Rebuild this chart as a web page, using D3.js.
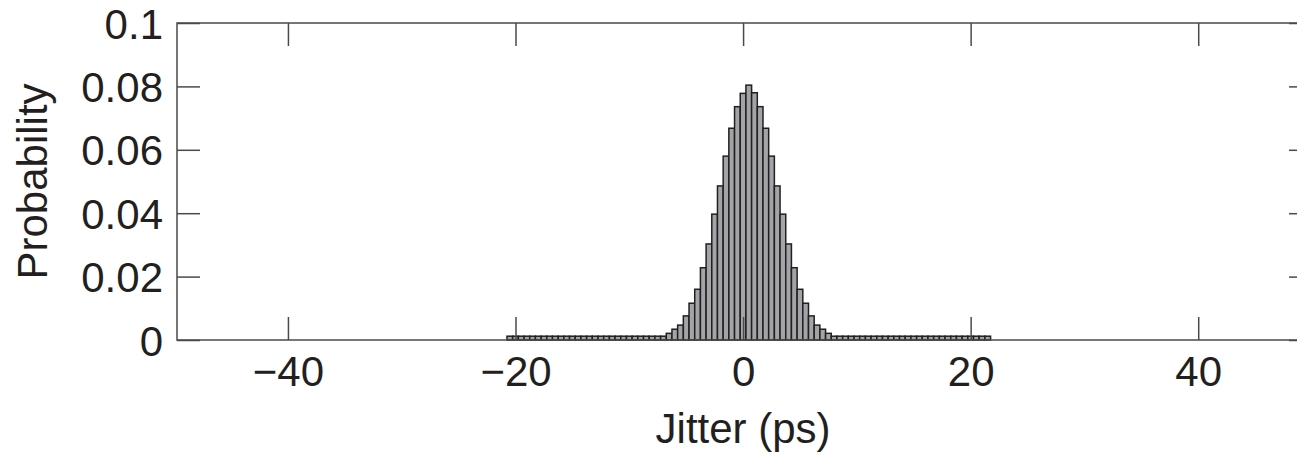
<!DOCTYPE html>
<html>
<head>
<meta charset="utf-8">
<script src="https://cdn.jsdelivr.net/npm/d3@7"></script>
<style>
  body { margin: 0; background: #fff; }
  text { font-family: "Liberation Sans", Arial, sans-serif; fill: #231f20; }
</style>
</head>
<body>
<svg id="chart" width="1297" height="454"></svg>
<script>
// histogram bins, 0.5 ps wide, first bin starts at -20.75 ps
const binStart = -20.75;
const binWidth = 0.5;
const tailLeft = [
  0.0012, 0.0012, 0.0012, 0.0012, 0.0012, 0.0012, 0.0012, 0.0012, 0.0012, 0.0012,
  0.0012, 0.0012, 0.0012, 0.0012, 0.0012, 0.0012, 0.0012, 0.0012, 0.0012, 0.0012,
  0.0012, 0.0012, 0.0012, 0.0012, 0.0012, 0.0012, 0.0012, 0.0012
];
const core = [
  0.0021, 0.0034, 0.0047, 0.0076, 0.0116, 0.016, 0.0228, 0.0303, 0.0397, 0.0486,
  0.058, 0.0668, 0.0736, 0.0778, 0.0804, 0.078, 0.0736, 0.0668, 0.058, 0.0486,
  0.0397, 0.0303, 0.0228, 0.016, 0.0116, 0.0076, 0.0047, 0.0034, 0.0021
];
const tailRight = [
  0.0012, 0.0012, 0.0012, 0.0012, 0.0012, 0.0012, 0.0012, 0.0012, 0.0012, 0.0012,
  0.0012, 0.0012, 0.0012, 0.0012, 0.0012, 0.0012, 0.0012, 0.0012, 0.0012, 0.0012,
  0.0012, 0.0012, 0.0012, 0.0012, 0.0012, 0.0012, 0.0012, 0.0012
];
const xTicks = [-40, -20, 0, 20, 40];
const yTicks = [0, 0.02, 0.04, 0.06, 0.08, 0.1];
const xLabel = "Jitter (ps)";
const yLabel = "Probability";

const probs = tailLeft.concat(core, tailRight);
const bins = probs.map((p, i) => ({ x0: binStart + i * binWidth, x1: binStart + (i + 1) * binWidth, p: p }));

const svg = d3.select("#chart");
const mLeft = 177, mRight = 1312, mTop = 23, mBottom = 340;
const x = d3.scaleLinear().domain([-49.75, 50]).range([mLeft, mRight]);
const y = d3.scaleLinear().domain([0, 0.1]).range([mBottom, mTop]);

// bars
svg.append("g")
  .selectAll("rect")
  .data(bins)
  .join("rect")
  .attr("x", d => x(d.x0))
  .attr("width", d => x(d.x1) - x(d.x0))
  .attr("y", d => y(d.p))
  .attr("height", d => y(0) - y(d.p))
  .attr("fill", "#a2a4a8")
  .attr("stroke", "#231f20")
  .attr("stroke-width", 1.5);

const tickLen = 23;
const axisColor = "#4a4a4a";
const fmtY = d => d === 0 ? "0" : d3.format("")(d);
const fmtX = d => d < 0 ? "\u2212" + Math.abs(d) : String(d);

function styleAxis(g) {
  g.select(".domain").remove();
  g.selectAll(".tick line").attr("stroke", axisColor).attr("stroke-width", 1.5);
  g.selectAll(".tick text").attr("font-size", 42).attr("fill", "#231f20")
    .attr("font-family", "'Liberation Sans', Arial, sans-serif");
}

svg.append("g")
  .attr("transform", `translate(0,${mBottom})`)
  .call(d3.axisBottom(x).tickValues(xTicks).tickFormat(fmtX).tickSizeInner(-tickLen).tickPadding(20))
  .call(styleAxis)
  .selectAll(".tick text").attr("y", 46).attr("dy", 0);

svg.append("g")
  .attr("transform", `translate(0,${mTop})`)
  .call(d3.axisTop(x).tickValues(xTicks).tickFormat("").tickSizeInner(-tickLen))
  .call(styleAxis);

svg.append("g")
  .attr("transform", `translate(${mLeft},0)`)
  .call(d3.axisLeft(y).tickValues(yTicks).tickFormat(fmtY).tickSizeInner(-tickLen).tickPadding(14))
  .call(styleAxis)
  .selectAll(".tick text").attr("x", -14).attr("dy", "0.36em");

svg.append("g")
  .attr("transform", `translate(${mRight},0)`)
  .call(d3.axisRight(y).tickValues(yTicks).tickFormat("").tickSizeInner(-tickLen))
  .call(styleAxis);

// frame
svg.append("rect")
  .attr("x", mLeft).attr("y", mTop)
  .attr("width", mRight - mLeft).attr("height", mBottom - mTop)
  .attr("fill", "none").attr("stroke", axisColor).attr("stroke-width", 1.5);

// axis titles
svg.append("text")
  .attr("x", x(0))
  .attr("y", 443)
  .attr("text-anchor", "middle")
  .attr("font-size", 42)
  .text(xLabel);

svg.append("text")
  .attr("transform", `translate(47,${(mTop + mBottom) / 2}) rotate(-90)`)
  .attr("text-anchor", "middle")
  .attr("font-size", 42)
  .text(yLabel);
</script>
</body>
</html>
